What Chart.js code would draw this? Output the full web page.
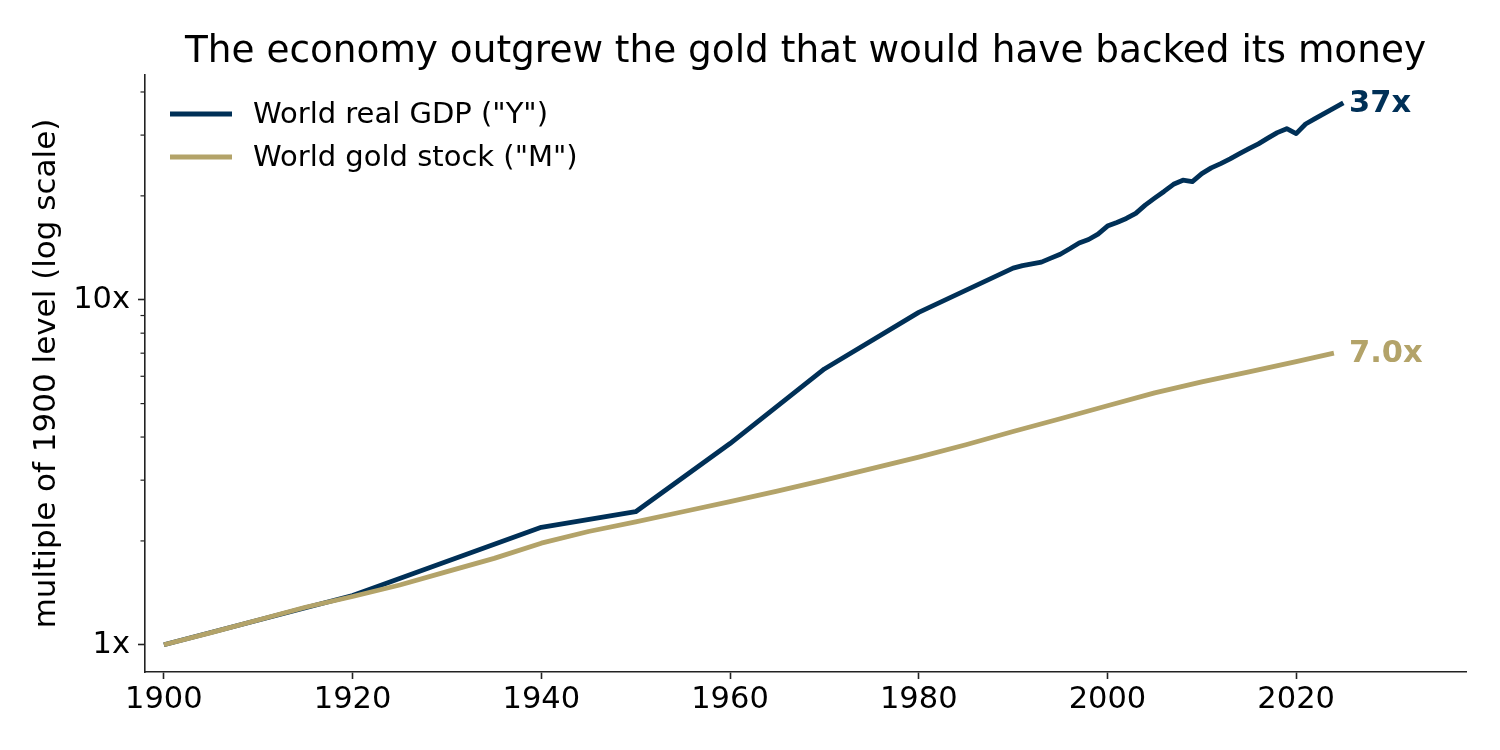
<!DOCTYPE html>
<html>
<head>
<meta charset="utf-8">
<script src="https://cdn.jsdelivr.net/npm/chart.js@4.4.1/dist/chart.umd.min.js"></script>
<style>
  html, body { margin: 0; padding: 0; background: #fff; }
  #wrap { width: 1500px; height: 750px; }
</style>
</head>
<body>
<div id="wrap"><canvas id="myChart" width="1500" height="750"></canvas></div>
<script>
// data (multiple of 1900 level)
var gdpYears = [1900, 1920, 1940, 1950, 1960, 1970, 1980,
  1990, 1991, 1992, 1993, 1994, 1995, 1996, 1997, 1998, 1999,
  2000, 2001, 2002, 2003, 2004, 2005, 2006, 2007, 2008, 2009,
  2010, 2011, 2012, 2013, 2014, 2015, 2016, 2017, 2018, 2019,
  2020, 2021, 2022, 2023, 2024, 2025];
var gdpValues = [1.0, 1.39, 2.19, 2.43, 3.83, 6.3, 9.19,
  12.35, 12.55, 12.7, 12.85, 13.2, 13.55, 14.05, 14.6, 14.95, 15.5,
  16.35, 16.75, 17.2, 17.8, 18.8, 19.7, 20.6, 21.6, 22.2, 22.0,
  23.2, 24.1, 24.8, 25.6, 26.5, 27.4, 28.3, 29.4, 30.5, 31.3,
  30.3, 32.3, 33.5, 34.7, 35.9, 37.2];

var goldYears = [1900, 1905, 1910, 1915, 1920, 1925, 1930, 1935, 1940, 1945,
  1950, 1955, 1960, 1965, 1970, 1975, 1980, 1985, 1990, 1995,
  2000, 2005, 2010, 2015, 2020, 2024];
var goldValues = [1.0, 1.085, 1.18, 1.285, 1.38, 1.49, 1.63, 1.78, 1.97, 2.13,
  2.27, 2.43, 2.6, 2.79, 3.0, 3.24, 3.5, 3.8, 4.15, 4.52,
  4.93, 5.37, 5.78, 6.18, 6.62, 7.0];

var seriesLabels = ['World real GDP ("Y")', 'World gold stock ("M")'];
var endLabels = ['37x', '7.0x'];
var xTicks = [1900, 1920, 1940, 1960, 1980, 2000, 2020];
var yTicks = [1, 2, 3, 4, 5, 6, 7, 8, 9, 10, 20, 30, 40];
var yMajorTicks = [1, 10];
var chartTitle = 'The economy outgrew the gold that would have backed its money';
var yTitle = 'multiple of 1900 level (log scale)';

var navy = '#003057';
var gold = '#B3A369';
var axisColor = '#222222';
var fontFamily = '"DejaVu Sans", sans-serif';
var lineW = 4.8;

function toPoints(xs, ys) {
  var out = [];
  for (var i = 0; i < xs.length; i++) {
    out.push({ x: xs[i], y: ys[i] });
  }
  return out;
}

// title, legend, minor ticks and end labels
var extras = {
  id: 'extras',
  afterDraw: function(chart) {
    var ctx = chart.ctx;
    var area = chart.chartArea;
    var xs = chart.scales.x;
    var ys = chart.scales.y;
    ctx.save();

    // minor y ticks
    ctx.strokeStyle = axisColor;
    ctx.lineWidth = 1.2;
    yTicks.forEach(function(v) {
      if (yMajorTicks.indexOf(v) >= 0) return;
      var py = ys.getPixelForValue(v);
      ctx.beginPath();
      ctx.moveTo(area.left - 4.5, py);
      ctx.lineTo(area.left, py);
      ctx.stroke();
    });

    // title
    ctx.fillStyle = '#000';
    ctx.font = '37.4px ' + fontFamily;
    ctx.textAlign = 'center';
    ctx.textBaseline = 'alphabetic';
    ctx.fillText(chartTitle, (area.left + area.right) / 2, 62);

    // legend
    ctx.font = '29px ' + fontFamily;
    ctx.textAlign = 'left';
    ctx.textBaseline = 'middle';
    chart.data.datasets.forEach(function(ds, i) {
      var ly = 114 + i * 43;
      ctx.strokeStyle = ds.borderColor;
      ctx.lineWidth = lineW;
      ctx.beginPath();
      ctx.moveTo(area.left + 25, ly);
      ctx.lineTo(area.left + 87, ly);
      ctx.stroke();
      ctx.fillStyle = '#000';
      ctx.fillText(ds.label, area.left + 108, ly + 1);
    });

    // end labels
    ctx.font = 'bold 30.5px ' + fontFamily;
    var lastYear = Math.max(gdpYears[gdpYears.length - 1], goldYears[goldYears.length - 1]);
    var lx = xs.getPixelForValue(lastYear + 0.6);
    chart.data.datasets.forEach(function(ds, i) {
      var last = ds.data[ds.data.length - 1];
      ctx.fillStyle = ds.borderColor;
      ctx.fillText(endLabels[i], lx, ys.getPixelForValue(last.y) + 1);
    });

    ctx.restore();
  }
};

var ctx = document.getElementById('myChart');

var chart = new Chart(ctx, {
  type: 'line',
  data: {
    datasets: [{
      label: seriesLabels[0],
      data: toPoints(gdpYears, gdpValues),
      borderColor: navy,
      backgroundColor: navy,
      borderWidth: lineW,
      pointRadius: 0,
      tension: 0,
      borderJoinStyle: 'round',
      order: 1
    }, {
      label: seriesLabels[1],
      data: toPoints(goldYears, goldValues),
      borderColor: gold,
      backgroundColor: gold,
      borderWidth: lineW,
      pointRadius: 0,
      tension: 0,
      borderJoinStyle: 'round',
      order: 0
    }]
  },
  options: {
    responsive: false,
    animation: false,
    devicePixelRatio: 1,
    layout: {
      padding: { top: 75, right: 34, left: 0, bottom: 0 }
    },
    plugins: {
      legend: { display: false },
      title: { display: false },
      tooltip: { enabled: false }
    },
    scales: {
      x: {
        type: 'linear',
        min: 1898,
        max: 2038,
        afterFit: function(scale) { scale.height = 78; },
        afterBuildTicks: function(scale) {
          scale.ticks = xTicks.map(function(v) { return { value: v }; });
        },
        grid: {
          display: true,
          drawOnChartArea: false,
          drawTicks: true,
          tickLength: 7,
          tickWidth: 1.6,
          tickColor: axisColor
        },
        border: { display: true, color: axisColor, width: 1.6 },
        ticks: {
          autoSkip: false,
          maxRotation: 0,
          padding: 3,
          color: '#000',
          font: { family: fontFamily, size: 30.5 },
          callback: function(v) { return String(v); }
        }
      },
      y: {
        type: 'logarithmic',
        min: 0.834,
        max: 44.8,
        afterFit: function(scale) { scale.width = 145; },
        afterBuildTicks: function(scale) {
          scale.ticks = yTicks.map(function(v) { return { value: v }; });
        },
        grid: {
          display: true,
          drawOnChartArea: false,
          drawTicks: true,
          tickLength: 7,
          tickWidth: 1.6,
          tickColor: function(c) {
            return (c.tick && yMajorTicks.indexOf(c.tick.value) >= 0) ? axisColor : 'rgba(0,0,0,0)';
          }
        },
        border: { display: true, color: axisColor, width: 1.6 },
        title: {
          display: true,
          text: yTitle,
          color: '#000',
          font: { family: fontFamily, size: 31 },
          padding: { top: 28, bottom: 0 }
        },
        ticks: {
          autoSkip: false,
          padding: 8,
          color: '#000',
          font: { family: fontFamily, size: 30.5 },
          callback: function(v) {
            return yMajorTicks.indexOf(v) >= 0 ? v + 'x' : '';
          }
        }
      }
    }
  },
  plugins: [extras]
});
</script>
</body>
</html>
